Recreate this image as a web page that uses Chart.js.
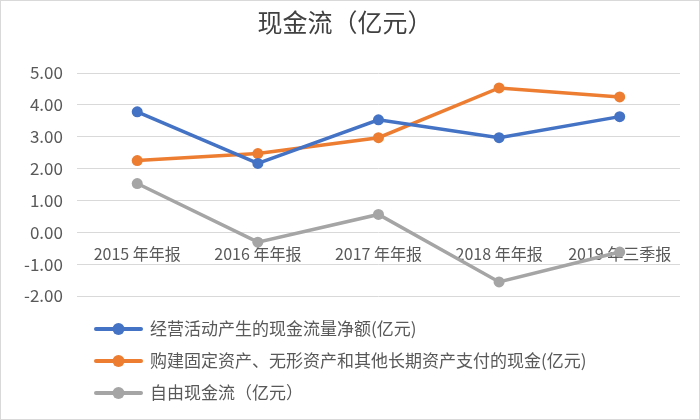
<!DOCTYPE html>
<html>
<head>
<meta charset="utf-8">
<script src="https://cdn.jsdelivr.net/npm/chart.js@4"></script>
<style>
html,body{margin:0;padding:0;background:#fff;}
#wrap{width:700px;height:420px;position:relative;}
</style>
</head>
<body>
<div id="wrap"><canvas id="c" width="700" height="420"></canvas></div>
<script>
const categories = ['2015 年年报', '2016 年年报', '2017 年年报', '2018 年年报', '2019 年三季报'];
const operatingCash = [3.78, 2.16, 3.53, 2.97, 3.63];
const capexCash = [2.25, 2.47, 2.97, 4.53, 4.25];
const freeCash = [1.53, -0.31, 0.56, -1.56, -0.62];
const seriesNames = ['经营活动产生的现金流量净额(亿元)', '购建固定资产、无形资产和其他长期资产支付的现金(亿元)', '自由现金流（亿元）'];
const seriesColors = ['#4472C4', '#ED7D31', '#A5A5A5'];
const yMin = -2, yMax = 5, yStep = 1;

const FONT = '"Noto Sans CJK SC", "Noto Sans", sans-serif';
const TEXT = '#595959';

const legendPlugin = {
  id: 'customLegend',
  afterDraw(chart) {
    const ctx = chart.ctx;
    const base = chart.chartArea.bottom;
    ctx.save();
    chart.data.datasets.forEach((ds, i) => {
      const y = base + 33 + i * 32;
      ctx.strokeStyle = ds.borderColor;
      ctx.lineWidth = 4;
      ctx.lineCap = 'round';
      ctx.beginPath();
      ctx.moveTo(96, y);
      ctx.lineTo(141, y);
      ctx.stroke();
      ctx.fillStyle = ds.borderColor;
      ctx.beginPath();
      ctx.arc(118.5, y, 6, 0, Math.PI * 2);
      ctx.fill();
      ctx.fillStyle = TEXT;
      ctx.font = '17px ' + FONT;
      ctx.textBaseline = 'middle';
      ctx.textAlign = 'left';
      ctx.fillText(ds.label, 150, y);
    });
    ctx.strokeStyle = '#D9D9D9';
    ctx.lineWidth = 1;
    ctx.strokeRect(0.5, 0.5, chart.width - 1, chart.height - 1);
    ctx.restore();
  }
};

const mk = (i, data) => ({
  label: seriesNames[i],
  data: data,
  borderColor: seriesColors[i],
  backgroundColor: seriesColors[i],
  borderWidth: 3.5,
  pointRadius: 5.5,
  pointHoverRadius: 5.5,
  pointBackgroundColor: seriesColors[i],
  pointBorderWidth: 0,
  tension: 0,
  fill: false
});

new Chart(document.getElementById('c'), {
  type: 'line',
  data: {
    labels: categories,
    datasets: [mk(0, operatingCash), mk(1, capexCash), mk(2, freeCash)]
  },
  options: {
    responsive: false,
    animation: false,
    devicePixelRatio: 1,
    layout: { padding: { top: 0, left: 10, right: 20, bottom: 124 } },
    plugins: {
      legend: { display: false },
      tooltip: { enabled: false },
      title: {
        display: true,
        text: '现金流（亿元）',
        color: '#404040',
        font: { family: FONT, size: 25, weight: 'normal' },
        padding: { top: 7, bottom: 36 }
      }
    },
    scales: {
      x: {
        type: 'category',
        position: { y: 0 },
        offset: true,
        grid: { display: false, drawTicks: false },
        border: { display: false },
        ticks: { color: TEXT, font: { family: FONT, size: 16 }, padding: 12, maxRotation: 0, autoSkip: false }
      },
      y: {
        min: yMin,
        max: yMax,
        grid: { color: '#D9D9D9', lineWidth: 1, drawTicks: false },
        border: { display: false },
        ticks: {
          stepSize: yStep,
          color: TEXT,
          padding: 14,
          font: { family: FONT, size: 17 },
          callback: v => v.toFixed(2)
        }
      }
    }
  },
  plugins: [legendPlugin]
});
</script>
</body>
</html>
